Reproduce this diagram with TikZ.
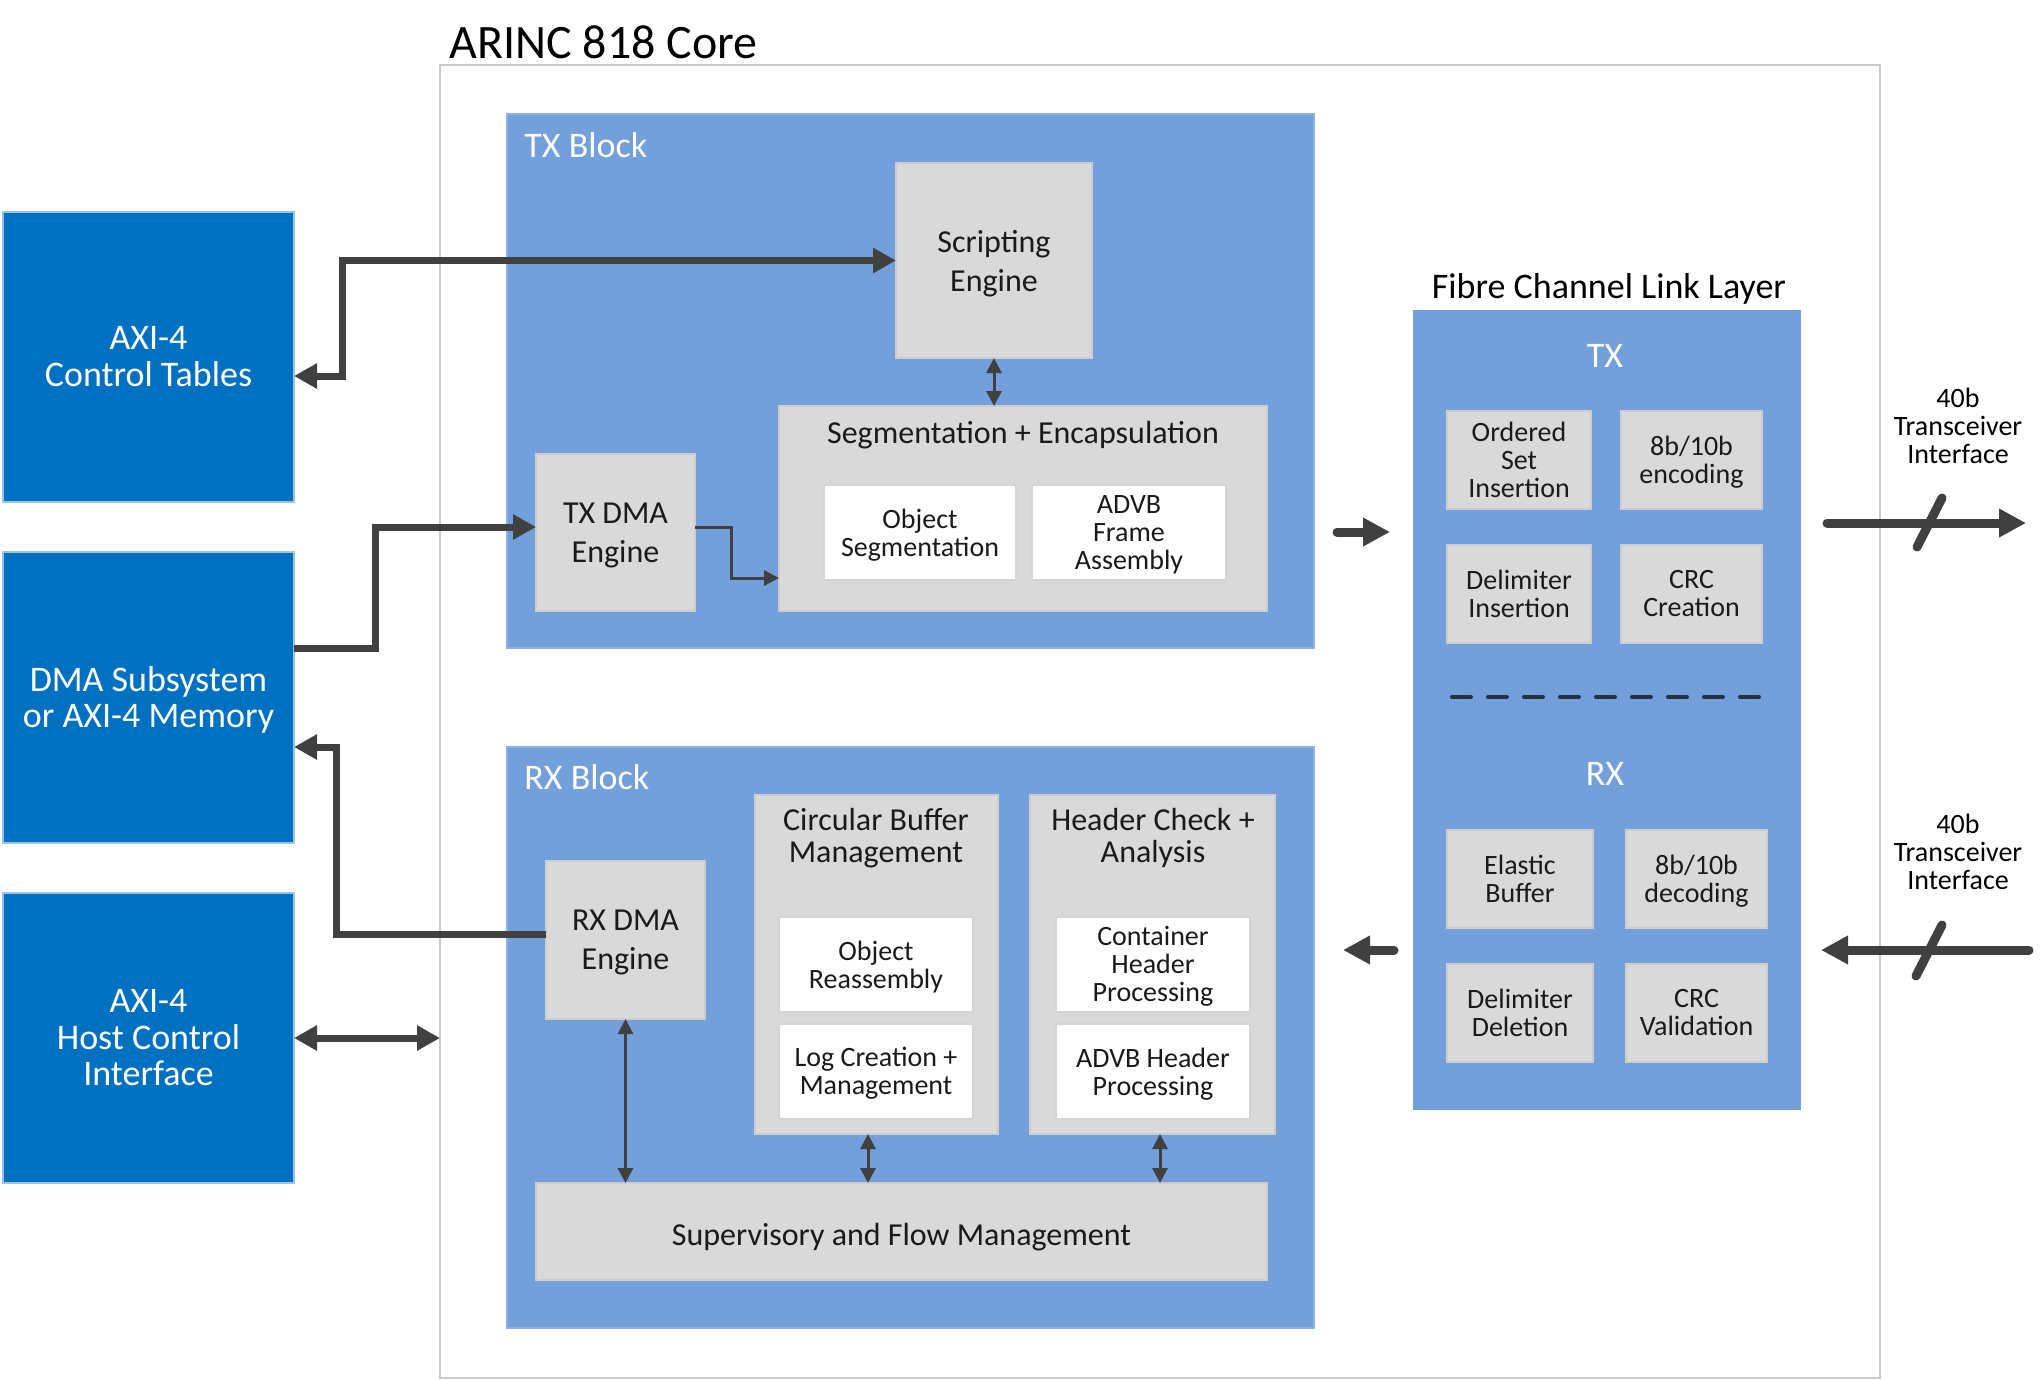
\documentclass[tikz,border=0pt]{standalone}
\usepackage{fontspec}
\setmainfont{Carlito}
\usetikzlibrary{arrows.meta,fit}
\definecolor{blk}{RGB}{115,159,219}
\definecolor{blkedge}{RGB}{140,178,228}
\definecolor{dblue}{HTML}{0070C0}
\definecolor{dblueedge}{HTML}{9DC3E6}
\definecolor{gfill}{HTML}{D9D9D9}
\definecolor{gedge}{HTML}{CDCDCD}
\definecolor{wedge}{HTML}{D4D4D4}
\definecolor{arr}{HTML}{404040}
\definecolor{coreedge}{HTML}{CACACA}
\definecolor{dashc}{HTML}{263142}
\definecolor{txt}{HTML}{1A1A1A}
\tikzset{
  box/.style={inner sep=0pt, outer sep=0pt},
  tbox/.style={inner sep=0pt, outer sep=0pt, align=center,
    execute at begin node=\strut, execute at end node=\strut},
  corebox/.style={box, draw=coreedge, line width=1pt, fill=white},
  blueblk/.style={box, fill=blk, draw=blkedge, line width=0.75pt},
  fcblk/.style={box, fill=blk},
  ext/.style={box, fill=dblue, draw=dblueedge, line width=0.75pt},
  exttxt/.style={tbox, text=white, font=\fontsize{18}{18.2}\selectfont, yshift=-2.5pt},
  gbox/.style={box, fill=gfill, draw=gedge, line width=0.75pt},
  wbox/.style={box, fill=white, draw=wedge, line width=0.75pt},
  bigtxt/.style={tbox, text=txt, font=\fontsize{16}{19.5}\selectfont, yshift=-3pt},
  smalltxt/.style={tbox, text=txt, font=\fontsize{14}{14}\selectfont, yshift=-2pt},
  contlbl/.style={tbox, text=txt, font=\fontsize{16}{16}\selectfont},
  blklbl/.style={anchor=base west, inner sep=0pt, text=white, font=\fontsize{18}{20}\selectfont},
  fclbl/.style={anchor=base, inner sep=0pt, text=white, font=\fontsize{18}{20}\selectfont},
  bigr/.style={draw=arr, line width=3.5pt, -{Triangle[length=11.5pt,width=12pt]}},
  bigb/.style={draw=arr, line width=3.5pt, {Triangle[length=11.5pt,width=12pt]}-{Triangle[length=11.5pt,width=12pt]}},
  thinr/.style={draw=arr, line width=1.5pt, -{Triangle[length=7.5pt,width=7.5pt]}},
  thinb/.style={draw=arr, line width=1.5pt, {Triangle[length=7.5pt,width=7.5pt]}-{Triangle[length=7.5pt,width=7.5pt]}},
  fatr/.style={draw=arr, line width=4.5pt, line cap=round, -{Triangle[length=13.5pt,width=13.5pt]}},
  slash/.style={draw=arr, line width=4.5pt, line cap=round},
}
\begin{document}
\begin{tikzpicture}[x=0.5pt, y=-0.5pt]
\useasboundingbox[fill=white] (0,0) rectangle (2040,1381);

% core
\node[corebox, fit={(440,65)(1880,1378)}] (core) {};
\node[anchor=base west, inner sep=0pt, text=black, font=\fontsize{24}{28}\selectfont] (title) at (449,58) {ARINC 818 Core};

% external blocks
\node[ext, fit={(3,212)(294,502)}] (ctrl) {};
\node[exttxt] (ctrlT) at (ctrl.center) {AXI-4\\Control Tables};
\node[ext, fit={(3,552)(294,843)}] (dmasub) {};
\node[exttxt] (dmasubT) at (dmasub.center) {DMA Subsystem\\or AXI-4 Memory};
\node[ext, fit={(3,893)(294,1183)}] (host) {};
\node[exttxt] (hostT) at (host.center) {AXI-4\\Host Control\\Interface};

% TX block
\node[blueblk, fit={(507,114)(1314,648)}] (txblk) {};
\node[blklbl] (txlbl) at (524,157) {TX Block};
\node[gbox, fit={(896,163)(1092,358)}] (script) {};
\node[bigtxt] (scriptT) at (script.center) {Scripting\\Engine};
\node[gbox, fit={(779,406)(1267,611)}] (seg) {};
\node[anchor=base, inner sep=0pt, text=txt, font=\fontsize{16}{19.5}\selectfont] (seglbl) at (1023,443) {Segmentation + Encapsulation};
\node[wbox, fit={(824,485)(1016,580)}] (objseg) {};
\node[smalltxt] (objsegT) at (objseg.center) {Object\\Segmentation};
\node[wbox, fit={(1032,485)(1226,580)}] (advbf) {};
\node[smalltxt] (advbfT) at (advbf.center) {ADVB\\Frame\\Assembly};
\node[gbox, fit={(536,454)(695,611)}] (txdma) {};
\node[bigtxt] (txdmaT) at (txdma.center) {TX DMA\\Engine};

% RX block
\node[blueblk, fit={(507,747)(1314,1328)}] (rxblk) {};
\node[blklbl] (rxlbl) at (524,789) {RX Block};
\node[gbox, fit={(546,861)(705,1019)}] (rxdma) {};
\node[bigtxt] (rxdmaT) at (rxdma.center) {RX DMA\\Engine};
\node[gbox, fit={(755,795)(998,1134)}] (circ) {};
\node[contlbl] (circlbl) at (876,840) {Circular Buffer\\Management};
\node[wbox, fit={(779,917)(973,1012)}] (objre) {};
\node[smalltxt] (objreT) at (objre.center) {Object\\Reassembly};
\node[wbox, fit={(779,1024)(973,1119)}] (logc) {};
\node[smalltxt] (logcT) at (logc.center) {Log Creation +\\Management};
\node[gbox, fit={(1030,795)(1275,1134)}] (hdr) {};
\node[contlbl] (hdrlbl) at (1153,840) {Header Check +\\Analysis};
\node[wbox, fit={(1056,917)(1250,1012)}] (cont) {};
\node[smalltxt] (contT) at (cont.center) {Container\\Header\\Processing};
\node[wbox, fit={(1056,1024)(1250,1119)}] (advbh) {};
\node[smalltxt] (advbhT) at (advbh.center) {ADVB Header\\Processing};
\node[gbox, fit={(536,1183)(1267,1280)}] (sup) {};
\node[bigtxt] (supT) at (sup.center) {Supervisory and Flow Management};

% Fibre channel link layer
\node[anchor=base, inner sep=0pt, text=black, font=\fontsize{18}{20}\selectfont] (fcl) at (1609,298) {Fibre Channel Link Layer};
\node[fcblk, fit={(1413,310)(1801,1110)}] (fc) {};
\node[fclbl] (fctx) at (1605,367) {TX};
\node[gbox, fit={(1447,411)(1591,509)}] (osi) {};
\node[smalltxt] (osiT) at (osi.center) {Ordered\\Set\\Insertion};
\node[gbox, fit={(1621,411)(1762,509)}] (enc) {};
\node[smalltxt] (encT) at (enc.center) {8b/10b\\encoding};
\node[gbox, fit={(1447,545)(1591,643)}] (delins) {};
\node[smalltxt] (delinsT) at (delins.center) {Delimiter\\Insertion};
\node[gbox, fit={(1621,545)(1762,643)}] (crcc) {};
\node[smalltxt] (crccT) at (crcc.center) {CRC\\Creation};
\coordinate (d1) at (1452,697);
\coordinate (d2) at (1759,697);
\draw[dashc, line width=2pt, line cap=round, dash pattern=on 9.5pt off 8.5pt] (d1) -- (d2);
\node[fclbl] (fcrx) at (1605,785) {RX};
\node[gbox, fit={(1447,830)(1593,928)}] (elb) {};
\node[smalltxt] (elbT) at (elb.center) {Elastic\\Buffer};
\node[gbox, fit={(1626,830)(1767,928)}] (dec) {};
\node[smalltxt] (decT) at (dec.center) {8b/10b\\decoding};
\node[gbox, fit={(1447,964)(1593,1062)}] (deldel) {};
\node[smalltxt] (deldelT) at (deldel.center) {Delimiter\\Deletion};
\node[gbox, fit={(1626,964)(1767,1062)}] (crcv) {};
\node[smalltxt] (crcvT) at (crcv.center) {CRC\\Validation};

% transceiver labels
\node[smalltxt, text=black] (tr1) at (1958,426) {40b\\Transceiver\\Interface};
\node[smalltxt, text=black] (tr2) at (1958,852) {40b\\Transceiver\\Interface};

% connectors
\coordinate (k1) at (342,376);
\draw[bigb] (ctrl.east |- k1) -- (k1) |- (script.west);
\coordinate (k2) at (375,648);
\draw[bigr] (dmasub.east |- k2) -- (k2) |- ([yshift=2.75pt]txdma.west);
\coordinate (k4) at (731,578);
\draw[thinr] ([yshift=2.75pt]txdma.east) -| (k4) -- (seg.west |- k4);
\coordinate (k6) at (336,747);
\draw[bigr] ([yshift=3pt]rxdma.west) -| (k6) -- (dmasub.east |- k6);
\draw[bigb] (host.east) -- (host.east -| core.west);
\draw[thinb] (script.south) -- (script.south |- seg.north);
\draw[thinb] (rxdma.south) -- (rxdma.south |- sup.north);
\coordinate (k7) at (868,0);
\draw[thinb] (circ.south -| k7) -- (sup.north -| k7);
\coordinate (k8) at (1160,0);
\draw[thinb] (hdr.south -| k8) -- (sup.north -| k8);

\coordinate (a1) at (1337,532);
\coordinate (a2) at (1390,532);
\draw[fatr] (a1) -- (a2);
\coordinate (a3) at (1394,950);
\coordinate (a4) at (1343,950);
\draw[fatr] (a3) -- (a4);

\coordinate (t1) at (1827,523);
\coordinate (t2) at (2026,523);
\draw[fatr] (t1) -- (t2);
\coordinate (s1) at (1917,547);
\coordinate (s2) at (1942,498);
\draw[slash] (s1) -- (s2);
\coordinate (t3) at (2029,950);
\coordinate (t4) at (1821,950);
\draw[fatr] (t3) -- (t4);
\coordinate (s3) at (1916,976);
\coordinate (s4) at (1942,925);
\draw[slash] (s3) -- (s4);
\end{tikzpicture}
\end{document}
